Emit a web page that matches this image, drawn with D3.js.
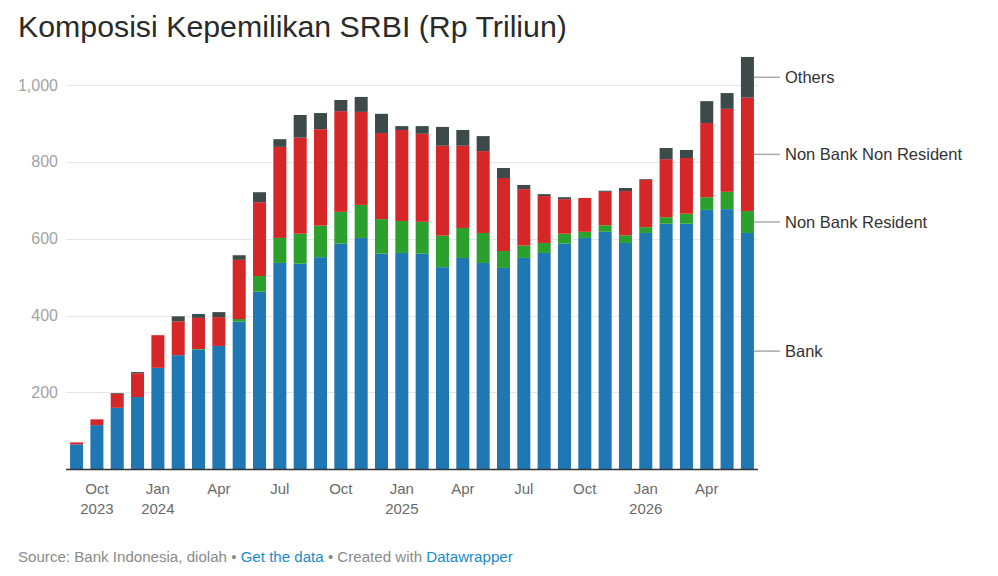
<!DOCTYPE html>
<html>
<head>
<meta charset="utf-8">
<script src="https://cdn.jsdelivr.net/npm/d3@7"></script>
<style>
  html, body { margin: 0; padding: 0; background: #fff; }
  svg { display: block; font-family: "Liberation Sans", Arial, sans-serif; }
</style>
</head>
<body>
<svg id="chart" width="998" height="576"></svg>
<script>
// Months Sep 2023 – Jun 2026
const months = ["2023-09","2023-10","2023-11","2023-12","2024-01","2024-02","2024-03","2024-04","2024-05","2024-06","2024-07","2024-08","2024-09","2024-10","2024-11","2024-12","2025-01","2025-02","2025-03","2025-04","2025-05","2025-06","2025-07","2025-08","2025-09","2025-10","2025-11","2025-12","2026-01","2026-02","2026-03","2026-04","2026-05","2026-06"];
const bank = [65,115,160,188,264,297,311,321,384,462,537,535,552,587,602,561,563,561,526,550,537,524,550,563,587,602,618,589,615,639,639,675,677,615];
const nonBankResident = [0,0,0,0,0,0,2,0,7,41,65,78,82,83,86,90,83,83,82,78,78,44,32,26,26,16,17,20,15,17,26,33,45,57];
const nonBankNonResident = [5,15,36,62,85,88,81,75,154,192,237,250,251,262,242,224,237,229,234,214,213,190,147,122,90,88,87,115,123,151,145,193,216,295];
const others = [0,0,2,3,0,13,10,13,12,26,20,59,42,29,39,50,10,20,49,41,39,26,11,5,5,0,3,8,2,29,21,57,41,106];

const seriesNames = ["Bank","Non Bank Resident","Non Bank Non Resident","Others"];
const seriesColors = ["#1f77b4","#2ca02c","#d62728","#3d4a4a"];
const yTicks = [200,400,600,800,1000];
const xTickMonths = ["2023-10","2024-01","2024-04","2024-07","2024-10","2025-01","2025-04","2025-07","2025-10","2026-01","2026-04"];
const monthNames = ["Jan","Feb","Mar","Apr","May","Jun","Jul","Aug","Sep","Oct","Nov","Dec"];
const yearLabelMonths = ["2023-10","2024-01","2025-01","2026-01"];

const title = "Komposisi Kepemilikan SRBI (Rp Triliun)";

const rows = months.map((m,i)=>({month:m, "Bank":bank[i], "Non Bank Resident":nonBankResident[i], "Non Bank Non Resident":nonBankNonResident[i], "Others":others[i]}));
const stacked = d3.stack().keys(seriesNames)(rows);

const svg = d3.select("#chart");

const x = d3.scaleBand().domain(months).range([66, 758]).paddingInner(0.36).paddingOuter(0.2);
const y = d3.scaleLinear().domain([0,1000]).range([469.3, 85]);

// title
svg.append("text").attr("x",18).attr("y",37).attr("font-size",30.3)
  .attr("fill","#2a2a2a").text(title);

// gridlines
svg.append("g").selectAll("line").data(yTicks).join("line")
  .attr("x1",66).attr("x2",758).attr("y1",d=>Math.round(y(d))+0.5).attr("y2",d=>Math.round(y(d))+0.5)
  .attr("stroke","#e6e6e6").attr("stroke-width",1);

// y tick labels
svg.append("g").selectAll("text").data(yTicks).join("text")
  .attr("x",58).attr("y",d=>y(d)+5.5).attr("text-anchor","end")
  .attr("font-size",16).attr("fill","#a3a3a3")
  .text(d=>d3.format(",")(d));

// bars
svg.append("g").selectAll("g").data(stacked).join("g")
  .attr("fill",(d,i)=>seriesColors[i])
  .selectAll("rect").data(d=>d).join("rect")
  .attr("x",d=>x(d.data.month)).attr("width",x.bandwidth())
  .attr("y",d=>y(d[1])).attr("height",d=>Math.max(0,y(d[0])-y(d[1])));

// baseline
svg.append("line").attr("x1",66).attr("x2",758).attr("y1",469.5).attr("y2",469.5)
  .attr("stroke","#333").attr("stroke-width",1.5);

// x tick labels
const xl = svg.append("g");
xTickMonths.forEach(m=>{
  const cx = x(m)+x.bandwidth()/2;
  const mm = +m.slice(5,7);
  xl.append("text").attr("x",cx).attr("y",494).attr("text-anchor","middle")
    .attr("font-size",15).attr("fill","#6a6a6a").text(monthNames[mm-1]);
  if (yearLabelMonths.includes(m)) {
    xl.append("text").attr("x",cx).attr("y",514).attr("text-anchor","middle")
      .attr("font-size",15).attr("fill","#6a6a6a").text(m.slice(0,4));
  }
});

// direct labels at last bar
const last = stacked.map(s=>s[s.length-1]);
const lastX = x(months[months.length-1]) + x.bandwidth();
const lg = svg.append("g");
last.forEach((d,i)=>{
  const cy = y((d[0]+d[1])/2);
  lg.append("line").attr("x1",lastX).attr("x2",780).attr("y1",cy).attr("y2",cy)
    .attr("stroke","#aaa").attr("stroke-width",1.5);
  lg.append("text").attr("x",785).attr("y",cy+5.5).attr("font-size",16.5).attr("fill","#333")
    .text(seriesNames[i]);
});

// footer
const ft = svg.append("text").attr("x",18).attr("y",562).attr("font-size",15.1).attr("fill","#8a8a8a");
ft.append("tspan").text("Source: Bank Indonesia, diolah • ");
ft.append("tspan").attr("fill","#1a8bc8").text("Get the data");
ft.append("tspan").text(" • Created with ");
ft.append("tspan").attr("fill","#1a8bc8").text("Datawrapper");
</script>
</body>
</html>
